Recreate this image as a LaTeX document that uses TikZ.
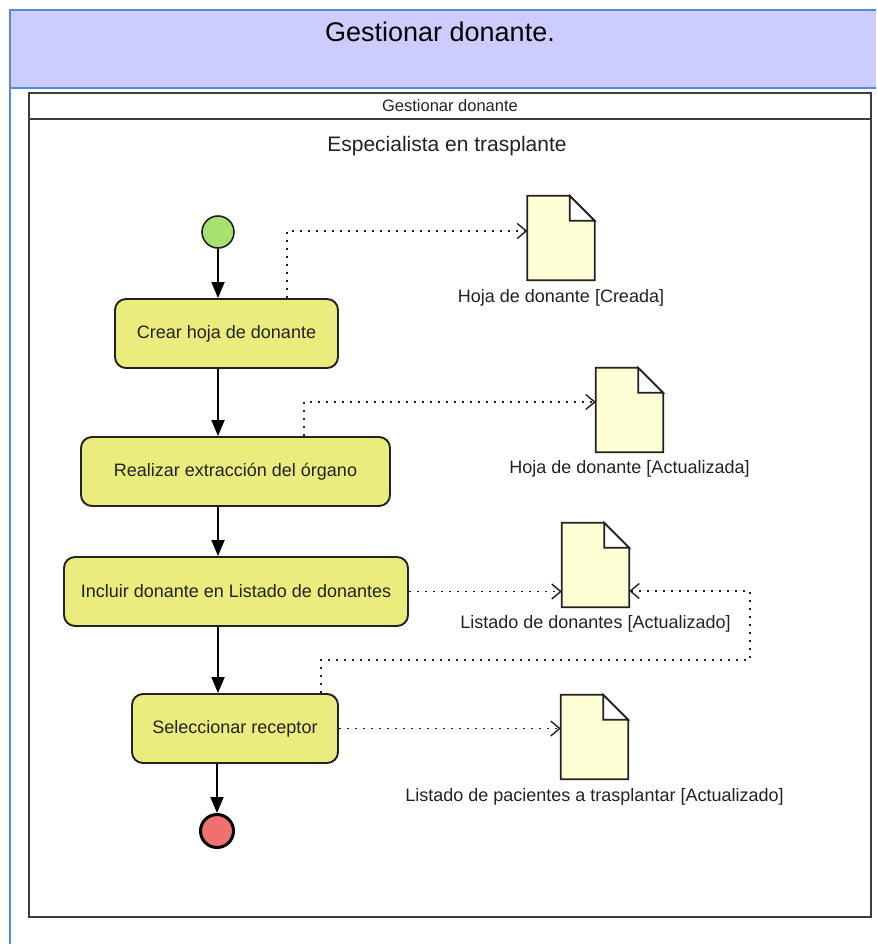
\documentclass[tikz,border=0pt]{standalone}
\usepackage{fontspec}
\setmainfont{Liberation Sans}
\usetikzlibrary{arrows.meta,calc}

\definecolor{hdrblue}{RGB}{84,141,212}
\definecolor{hdrfill}{RGB}{204,204,255}
\definecolor{actfill}{RGB}{234,236,126}
\definecolor{docfill}{RGB}{255,255,214}
\definecolor{startfill}{RGB}{166,226,110}
\definecolor{endfill}{RGB}{240,112,112}
\definecolor{ink}{RGB}{34,34,34}
\definecolor{framegray}{RGB}{60,60,60}

\tikzset{
  txt/.style={font=\fontsize{18}{20}\selectfont, text=ink, inner sep=0pt},
  action/.style={txt, draw=ink, line width=1.9pt, fill=actfill,
    rounded corners=11pt, minimum height=69pt},
  docbox/.style={draw=none, minimum width=67pt, minimum height=84pt, inner sep=0pt},
  initnode/.style={circle, draw=ink, line width=1.6pt, fill=startfill,
    minimum size=32pt, inner sep=0pt},
  finalnode/.style={circle, draw=black, line width=3pt, fill=endfill,
    minimum size=33pt, inner sep=0pt},
  flow/.style={draw=black, line width=1.8pt,
    -{Triangle[length=16pt,width=13pt]}},
  objflow/.style={draw=ink, line width=1.9pt, dash pattern=on 1.9pt off 6.1pt,
    -{Straight Barb[length=9pt,width=15pt,line width=1.4pt]}},
}

% folded-corner document outline drawn around a docbox node
\newcommand\foldeddoc[1]{%
  \filldraw[fill=docfill, draw=ink, line width=1.7pt, line join=miter]
    (#1.north west) -- ($(#1.north east)+(-25,0)$) -- ($(#1.north east)+(0,25)$)
    -- (#1.south east) -- (#1.south west) -- cycle;
  \filldraw[fill=white, draw=ink, line width=1.7pt, line join=miter]
    ($(#1.north east)+(-25,0)$) -- ($(#1.north east)+(-25,25)$)
    -- ($(#1.north east)+(0,25)$) -- cycle;
}

\begin{document}
\begin{tikzpicture}[x=1pt, y=-1pt]
  \useasboundingbox (0,0) rectangle (876,944);

  % page header band
  \fill[hdrfill] (10,10) rectangle (876,88);
  \draw[hdrblue, line width=2pt] (876,10) -- (10,10) -- (10,944);
  \draw[hdrblue, line width=2pt] (10,88) -- (876,88);
  \node[font=\fontsize{27}{30}\selectfont, text=black, inner sep=0pt]
    (title) at (440,32) {Gestionar donante.};

  % activity frame with its name compartment
  \draw[framegray, line width=2.4pt] (29,93) rectangle (871,917);
  \draw[framegray, line width=2.2pt] (29,119) -- (871,119);
  \node[font=\fontsize{16.5}{18}\selectfont, text=ink, inner sep=0pt]
    (actname) at (450,106) {Gestionar donante};
  \node[font=\fontsize{21}{24}\selectfont, text=ink, inner sep=0pt]
    (lane) at (447,146) {Especialista en trasplante};

  % control nodes and actions
  \node[initnode] (start) at (218,232) {};
  \node[action, minimum width=223pt] (a1) at (226.5,333.5) {Crear hoja de donante};
  \node[action, minimum width=309pt] (a2) at (235.5,471.5) {Realizar extracción del órgano};
  \node[action, minimum width=344pt] (a3) at (236,591.5) {Incluir donante en Listado de donantes};
  \node[action, minimum width=206pt] (a4) at (235,728.5) {Seleccionar receptor};
  \node[finalnode] (stop) at (217,831) {};

  % object nodes
  \node[docbox] (d1) at (561,238) {};
  \node[docbox] (d2) at (629.5,410) {};
  \node[docbox] (d3) at (595.5,565) {};
  \node[docbox] (d4) at (594.5,737) {};
  \foldeddoc{d1}
  \foldeddoc{d2}
  \foldeddoc{d3}
  \foldeddoc{d4}
  \node[txt, anchor=center] (l1) at ($(d1.south)+(0,18)$) {Hoja de donante [Creada]};
  \node[txt, anchor=center] (l2) at ($(d2.south)+(0,17)$) {Hoja de donante [Actualizada]};
  \node[txt, anchor=center] (l3) at ($(d3.south)+(0,17)$) {Listado de donantes [Actualizado]};
  \node[txt, anchor=center] (l4) at ($(d4.south)+(0,18)$) {Listado de pacientes a trasplantar [Actualizado]};

  % control flow
  \draw[flow] (start.south) -- (start.south |- a1.north);
  \draw[flow] (a1.south -| start.center) -- (a2.north -| start.center);
  \draw[flow] (a2.south -| start.center) -- (a3.north -| start.center);
  \draw[flow] (a3.south -| start.center) -- (a4.north -| start.center);
  \draw[flow] (a4.south -| stop.center) -- (stop.north);

  % object flow
  \draw[objflow] ($(a1.north)+(60.5,0)$) |- ($(d1.west)+(0,-7)$);
  \draw[objflow] ($(a2.north)+(68.5,0)$) |- ($(d2.west)+(0,-8)$);
  \draw[objflow] (a3.east) -- (a3.east -| d3.west);
  \coordinate (loopR) at (750,660);
  \draw[objflow] ($(a4.north)+(86,0)$) |- (loopR) |- ($(d3.east)+(0,26)$);
  \draw[objflow] (a4.east) -- (a4.east -| d4.west);
\end{tikzpicture}
\end{document}
